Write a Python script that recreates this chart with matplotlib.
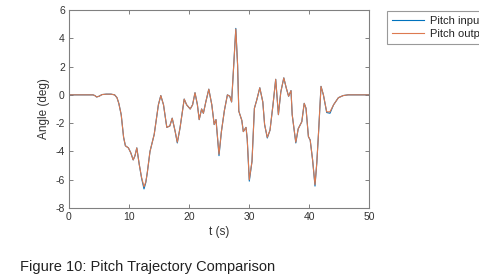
import matplotlib
matplotlib.use("Agg")
import matplotlib.pyplot as plt

plt.rcParams['font.family'] = ['Liberation Sans', 'DejaVu Sans']
plt.rcParams['axes.unicode_minus'] = False

t = [0, 4.0, 4.3, 4.6, 5.0, 5.5, 6.2, 7.0, 7.6, 8.0, 8.3, 8.7, 9.1, 9.4, 9.9,
     10.3, 10.7, 11.0, 11.3, 11.7, 12.1, 12.5, 12.8, 13.05, 13.5, 14.2, 14.9,
     15.3, 15.75, 16.3, 16.8, 17.2, 17.7, 18.05, 18.5, 19.2, 19.6, 20.2, 20.6,
     21.0, 21.4, 21.7, 22.1, 22.4, 22.8, 23.3, 23.8, 24.2, 24.5, 25.0, 25.4,
     25.9, 26.4, 26.8, 27.1, 27.4, 27.8, 28.1, 28.3, 28.8, 29.05, 29.5, 29.7,
     30.05, 30.5, 30.9, 31.3, 31.8, 32.3, 32.6, 33.05, 33.5, 34.0, 34.45, 34.9,
     35.3, 35.8, 36.2, 36.6, 37.0, 37.2, 37.8, 38.2, 38.8, 39.2, 39.5, 39.9,
     40.2, 40.6, 41.0, 41.3, 41.6, 42.0, 42.4, 42.95, 43.5, 44.1, 44.9, 45.7,
     46.5, 50]

pitch_input = [0, 0, -0.05, -0.15, -0.1, 0.02, 0.05, 0.05, 0.0, -0.2, -0.6, -1.4,
               -3.0, -3.6, -3.75, -4.1, -4.6, -4.3, -3.75, -4.9, -5.9, -6.65, -6.2,
               -5.5, -4.0, -2.8, -0.7, -0.05, -0.7, -2.3, -2.2, -1.65, -2.6, -3.4,
               -2.35, -0.3, -0.7, -1.0, -0.7, 0.15, -0.7, -1.75, -1.0, -1.3, -0.5,
               0.4, -0.7, -2.1, -1.75, -4.3, -2.6, -1.1, 0.0, -0.1, -0.5, 1.7,
               4.7, 2.1, -1.15, -1.8, -2.6, -2.3, -3.1, -6.1, -4.7, -0.95, -0.35,
               0.5, -0.5, -2.1, -3.05, -2.5, -0.7, 1.1, -1.4, 0.2, 1.2, 0.5, -0.1,
               0.3, -1.4, -3.4, -2.4, -1.9, -0.6, -0.95, -2.95, -3.2, -4.6, -6.45,
               -4.8, -2.6, 0.6, 0.0, -1.25, -1.3, -0.7, -0.2, -0.05, 0.0, 0.0]

pitch_output = [0, 0, -0.05, -0.15, -0.1, 0.02, 0.05, 0.05, 0.0, -0.2, -0.6, -1.4,
                -3.0, -3.6, -3.75, -4.1, -4.6, -4.3, -3.75, -4.9, -5.85, -6.5, -6.15,
                -5.5, -4.0, -2.8, -0.7, -0.05, -0.7, -2.3, -2.2, -1.65, -2.6, -3.35,
                -2.35, -0.3, -0.7, -1.0, -0.7, 0.15, -0.7, -1.75, -1.0, -1.3, -0.5,
                0.4, -0.7, -2.1, -1.75, -4.2, -2.6, -1.1, 0.0, -0.1, -0.5, 1.7,
                4.65, 2.1, -1.15, -1.8, -2.6, -2.3, -3.1, -6.0, -4.7, -0.95, -0.35,
                0.5, -0.5, -2.1, -3.0, -2.5, -0.7, 1.1, -1.4, 0.2, 1.2, 0.5, -0.1,
                0.3, -1.4, -3.35, -2.4, -1.9, -0.6, -0.95, -2.95, -3.2, -4.6, -6.35,
                -4.8, -2.6, 0.6, 0.0, -1.2, -1.2, -0.7, -0.2, -0.05, 0.0, 0.0]

xticks = [0, 10, 20, 30, 40, 50]
yticks = [-8, -6, -4, -2, 0, 2, 4, 6]

fig = plt.figure(figsize=(4.79, 2.78), dpi=100)
ax = fig.add_axes([69/479, 1 - 208/278, 300/479, 198/278])

ax.plot(t, pitch_input, color='#0072BD', lw=0.8, label='Pitch input')
ax.plot(t, pitch_output, color='#DD7A50', lw=0.8, label='Pitch output')

ax.set_xlim(0, 50)
ax.set_ylim(-8, 6)
ax.set_xticks(xticks)
ax.set_yticks(yticks)
ax.tick_params(direction='in', length=3, width=0.7, colors='#808080',
               labelcolor='#333333', labelsize=7.5, top=True, right=True, pad=3)
for s in ax.spines.values():
    s.set_color('#808080')
    s.set_linewidth(0.8)

ax.set_xlabel('t (s)', fontsize=8.5, color='#333333', labelpad=3)
ax.set_ylabel('Angle (deg)', fontsize=8.5, color='#333333', labelpad=4)

leg = ax.legend(loc='upper left', bbox_to_anchor=(387/479, 1 - 11/278),
                bbox_transform=fig.transFigure, fontsize=8, frameon=True,
                fancybox=False, edgecolor='#808080', handlelength=2.9,
                handletextpad=0.5, borderpad=0.45, labelspacing=0.25,
                borderaxespad=0)
leg.get_frame().set_linewidth(0.8)
for txt in leg.get_texts():
    txt.set_color('#222222')

fig.text(20/479, 1 - 267/278, 'Figure 10: Pitch Trajectory Comparison',
         fontsize=10.5, color='#222222', va='center', ha='left')

fig.savefig('out.png', dpi=100)
